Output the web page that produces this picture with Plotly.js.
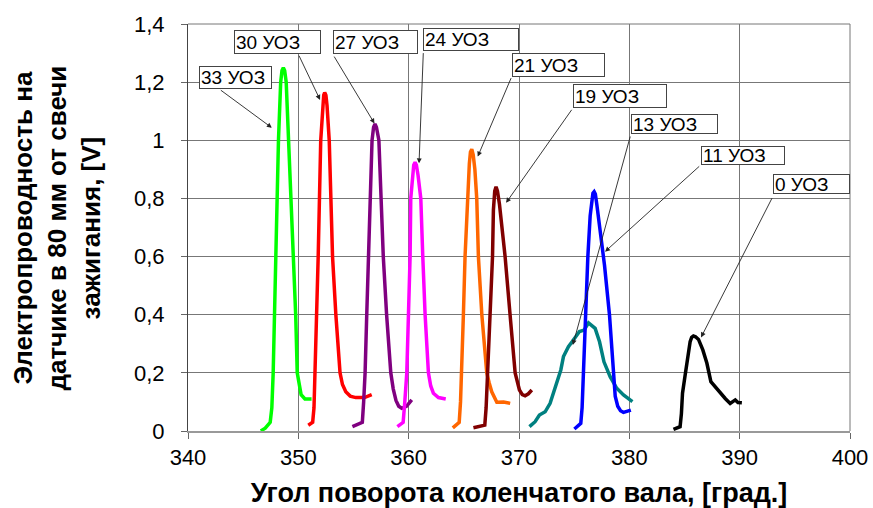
<!DOCTYPE html>
<html>
<head>
<meta charset="utf-8">
<script src="https://cdn.plot.ly/plotly-3.0.1.min.js"></script>
<style>html,body{margin:0;padding:0;background:#fff;}#chart{width:873px;height:508px;}</style>
</head>
<body>
<div id="chart"></div>
<script>
// Series data (angle in degrees, conductivity in V)
const names = ["33 УОЗ","30 УОЗ","27 УОЗ","24 УОЗ","21 УОЗ","19 УОЗ","13 УОЗ","11 УОЗ","0 УОЗ"];
const colors = ["#00ff00","#ff0000","#800080","#ff00ff","#ff6600","#800000","#008080","#0000ff","#000000"];

const x33 = [346.6, 347.0, 347.45, 347.6, 347.72, 347.85, 347.95, 348.05, 348.2, 348.4, 348.52, 348.64, 348.76, 348.9, 349.13, 349.4, 349.55, 349.76, 349.9, 350.05, 350.25, 350.6, 351.2];
const y33 = [0.0, 0.01, 0.03, 0.08, 0.2, 0.4, 0.6, 0.8, 1.0, 1.2, 1.24, 1.25, 1.24, 1.2, 1.0, 0.73, 0.6, 0.4, 0.2, 0.16, 0.125, 0.11, 0.11];

const x30 = [350.9, 351.3, 351.42, 351.55, 351.65, 351.8, 352.03, 352.2, 352.3, 352.39, 352.5, 352.6, 352.8, 353.1, 353.4, 353.78, 354.0, 354.3, 354.7, 355.2, 356.0, 356.65];
const y30 = [0.02, 0.03, 0.08, 0.25, 0.4, 0.6, 1.0, 1.12, 1.155, 1.164, 1.155, 1.12, 1.0, 0.6, 0.4, 0.2, 0.16, 0.135, 0.12, 0.115, 0.115, 0.125];

const x27 = [354.9, 355.8, 355.92, 356.05, 356.2, 356.35, 356.68, 356.82, 356.95, 357.08, 357.3, 357.7, 358.0, 358.38, 358.6, 358.85, 359.1, 359.37, 359.8, 360.28];
const y27 = [0.015, 0.03, 0.1, 0.2, 0.4, 0.6, 1.0, 1.045, 1.056, 1.045, 1.0, 0.6, 0.4, 0.2, 0.145, 0.105, 0.085, 0.078, 0.085, 0.107];

const x24 = [358.98, 359.5, 359.65, 359.83, 359.98, 360.13, 360.19, 360.35, 360.46, 360.58, 360.7, 360.85, 361.1, 361.28, 361.49, 361.79, 362.0, 362.24, 362.7, 363.36];
const y24 = [0.015, 0.03, 0.1, 0.2, 0.4, 0.6, 0.8, 0.88, 0.915, 0.924, 0.915, 0.88, 0.8, 0.6, 0.4, 0.2, 0.155, 0.13, 0.115, 0.11];

const x21 = [364.0, 364.58, 364.7, 364.81, 364.96, 365.11, 365.33, 365.5, 365.6, 365.72, 365.85, 366.0, 366.17, 366.32, 366.63, 367.08, 367.3, 367.53, 367.99, 368.6, 369.2];
const y21 = [0.011, 0.03, 0.1, 0.2, 0.4, 0.6, 0.8, 0.92, 0.96, 0.969, 0.95, 0.9, 0.8, 0.6, 0.4, 0.2, 0.165, 0.135, 0.099, 0.1, 0.095];

const x19 = [365.87, 366.9, 367.02, 367.14, 367.38, 367.6, 367.68, 367.8, 367.92, 368.05, 368.23, 368.74, 369.19, 369.65, 370.04, 370.3, 370.55, 370.85, 371.16];
const y19 = [0.011, 0.02, 0.08, 0.2, 0.4, 0.6, 0.76, 0.825, 0.84, 0.825, 0.78, 0.6, 0.4, 0.2, 0.141, 0.125, 0.121, 0.128, 0.141];

const x13 = [370.95, 371.46, 371.85, 372.37, 372.82, 373.12, 373.48, 373.79, 374.03, 374.48, 374.93, 375.48, 375.9, 376.3, 376.9, 377.3, 377.7, 378.26, 378.86, 379.47, 380.28];
const y13 = [0.015, 0.032, 0.055, 0.066, 0.095, 0.13, 0.17, 0.21, 0.256, 0.29, 0.313, 0.342, 0.347, 0.372, 0.353, 0.307, 0.238, 0.187, 0.147, 0.124, 0.101];

const x11 = [375.02, 375.6, 375.72, 375.84, 375.99, 376.24, 376.45, 376.6, 376.7, 376.81, 376.92, 377.05, 377.35, 377.75, 378.2, 378.52, 378.72, 378.95, 379.2, 379.47, 380.14];
const y11 = [0.007, 0.026, 0.08, 0.2, 0.4, 0.6, 0.74, 0.8, 0.818, 0.823, 0.815, 0.78, 0.69, 0.57, 0.4, 0.2, 0.12, 0.085, 0.07, 0.064, 0.072];

const x0 = [384.0, 384.6, 384.72, 384.82, 385.06, 385.27, 385.51, 385.65, 385.81, 386.0, 386.27, 386.66, 387.03, 387.39, 387.78, 388.23, 388.69, 389.14, 389.4, 389.6, 389.85, 390.2];
const y0 = [0.006, 0.015, 0.06, 0.13, 0.193, 0.256, 0.307, 0.322, 0.327, 0.324, 0.315, 0.279, 0.233, 0.17, 0.152, 0.132, 0.112, 0.095, 0.1, 0.107, 0.098, 0.097];

const xs = [x33, x30, x27, x24, x21, x19, x13, x11, x0];
const ys = [y33, y30, y27, y24, y21, y19, y13, y11, y0];

// Tick labels
const xTickVals = [340, 350, 360, 370, 380, 390, 400];
const xTickText = ["340", "350", "360", "370", "380", "390", "400"];
const yTickVals = [0, 0.2, 0.4, 0.6, 0.8, 1.0, 1.2, 1.4];
const yTickText = ["0", "0,2", "0,4", "0,6", "0,8", "1", "1,2", "1,4"];

// Label callouts: arrow tip on curve
const tipX = [347.6, 351.97, 356.9, 360.94, 366.26, 368.83, 374.88, 377.8, 386.5];
const tipY = [1.043, 1.139, 1.058, 0.921, 0.944, 0.785, 0.296, 0.617, 0.322];

// Box placement (top-left in data units, size in px) and arrow tail
const boxLayout = [
  {x: 341.02, y: 1.2556, w: 73, h: 23, tx: 342.84, ty: 1.176},
  {x: 344.2,  y: 1.3794, w: 87, h: 24, tx: 350.0,  ty: 1.296},
  {x: 353.17, y: 1.3794, w: 85, h: 24, tx: 353.17, ty: 1.293},
  {x: 361.33, y: 1.3852, w: 96, h: 23, tx: 361.33, ty: 1.305},
  {x: 369.34, y: 1.2992, w: 93, h: 24, tx: 369.34, ty: 1.219},
  {x: 374.87, y: 1.1936, w: 94, h: 24, tx: 374.87, ty: 1.11},
  {x: 380.12, y: 1.0904, w: 87, h: 20, tx: 380.12, ty: 1.018},
  {x: 386.47, y: 0.9814, w: 84, h: 19, tx: 386.47, ty: 0.915},
  {x: 393.0,  y: 0.883,  w: 77, h: 20, tx: 393.0,  ty: 0.806}
];

const FONT = "Liberation Sans, Arial, sans-serif";

const traces = names.map((n, i) => ({
  type: "scatter", mode: "lines", name: n,
  x: xs[i], y: ys[i],
  line: {color: colors[i], width: 3.5, shape: "linear"},
  showlegend: false, hoverinfo: "x+y+name"
}));

const annotations = [];
names.forEach((n, i) => {
  const b = boxLayout[i];
  annotations.push({
    x: tipX[i], y: tipY[i], xref: "x", yref: "y",
    ax: b.tx, ay: b.ty, axref: "x", ayref: "y",
    text: "", showarrow: true, arrowhead: 2, arrowsize: 1.1, arrowwidth: 0.9,
    arrowcolor: "#222"
  });
  annotations.push({
    x: b.x, y: b.y, xref: "x", yref: "y", xanchor: "left", yanchor: "top",
    text: n, showarrow: false, align: "left", valign: "middle",
    width: b.w - 4, height: b.h - 4,
    bgcolor: "#ffffff", bordercolor: "#444", borderwidth: 1, borderpad: 1,
    font: {family: FONT, size: 19, color: "#000"}
  });
});

// Y-axis title as rotated annotation
annotations.push({
  xref: "paper", yref: "paper", x: -0.198, y: 0.5, xanchor: "center", yanchor: "middle",
  textangle: -90, showarrow: false,
  text: "<b>Электропроводность на<br>датчике в 80 мм от свечи<br>зажигания, [V]</b>",
  font: {family: FONT, size: 26, color: "#000"}
});

const layout = {
  width: 873, height: 508,
  margin: {l: 188, r: 23, t: 24, b: 77},
  paper_bgcolor: "#ffffff", plot_bgcolor: "#ffffff",
  font: {family: FONT, color: "#000"},
  xaxis: {
    range: [340, 400], tickvals: xTickVals, ticktext: xTickText,
    showgrid: true, gridcolor: "#777", gridwidth: 1,
    showline: true, linecolor: "#999", linewidth: 2, mirror: false,
    ticks: "outside", ticklen: 6, tickcolor: "#666",
    tickfont: {family: FONT, size: 22, color: "#000"},
    zeroline: false,
    title: {text: "<b>Угол поворота коленчатого вала, [град.]</b>", font: {family: FONT, size: 27, color: "#000"}, standoff: 14}
  },
  yaxis: {
    range: [0, 1.4], tickvals: yTickVals, ticktext: yTickText,
    showgrid: true, gridcolor: "#777", gridwidth: 1,
    showline: true, linecolor: "#444", linewidth: 1,
    ticks: "outside", ticklen: 6, tickcolor: "#666",
    ticklabelstandoff: 12,
    tickfont: {family: FONT, size: 22, color: "#000"},
    zeroline: false
  },
  shapes: [
    {type: "line", xref: "paper", yref: "paper", x0: 0, x1: 1, y0: 1, y1: 1, line: {color: "#777", width: 1}},
    {type: "line", xref: "paper", yref: "paper", x0: 1, x1: 1, y0: 0, y1: 1, line: {color: "#777", width: 1}}
  ],
  annotations: annotations
};

Plotly.newPlot("chart", traces, layout, {displayModeBar: false, staticPlot: true});
</script>
</body>
</html>
